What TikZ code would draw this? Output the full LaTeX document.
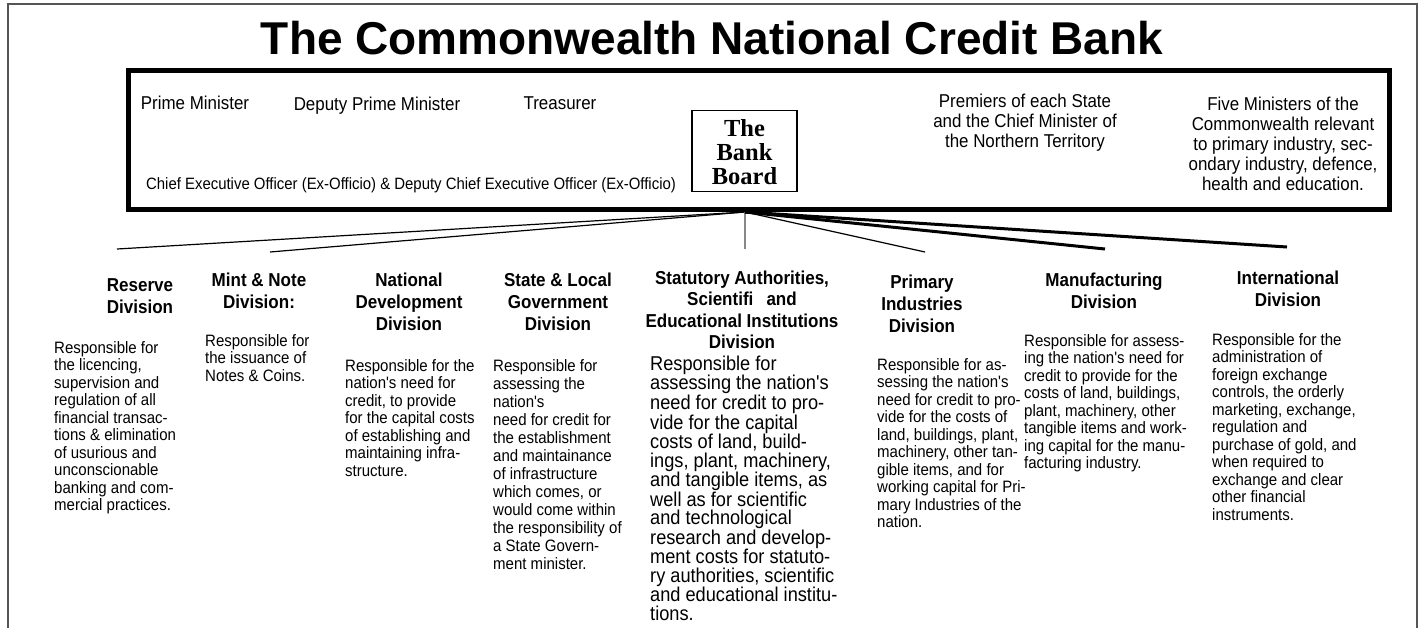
\documentclass[tikz,border=0pt]{standalone}
\usepackage{fontspec}
\usepackage{tikz}
\setmainfont{Liberation Sans}
\newfontfamily\narrowsans[FakeStretch=0.91]{Liberation Sans}
\newfontfamily\boardserif{Liberation Serif}
\definecolor{framegray}{HTML}{555555}
\definecolor{stemgray}{HTML}{888888}
\tikzset{
	member/.style={align=center, inner sep=0pt, font=\narrowsans\fontsize{18.6}{20}\selectfont},
	head/.style={align=center, inner sep=0pt, font=\narrowsans\bfseries\fontsize{18.7}{22}\selectfont},
	duty/.style={align=left, anchor=north west, inner sep=0pt, font=\narrowsans\fontsize{16.5}{17.5}\selectfont},
	feed/.style={line width=1.2pt},
	heavyfeed/.style={line width=3pt}
}
\begin{document}
\begin{tikzpicture}[x=1pt, y=-1pt]
			\useasboundingbox (0, 0) rectangle (1425, 627);
			\draw[framegray, line width=1.5pt] (8, 640) -- (8, 4) -- (1417, 4) -- (1417, 640);
			\node at (712, 38) (title) {\bfseries\fontsize{46}{48}\selectfont The Commonwealth National Credit Bank};
			\draw[line width=5pt] (128.5, 70) rectangle (1389.5, 209.5);
			\node[member] at (195, 103) (pm) {Prime Minister};
			\node[member] at (377, 106) (dpm) {Deputy Prime Minister};
			\node[member] at (560, 103) (tr) {Treasurer};
			\node[member, font=\narrowsans\fontsize{16.4}{18}\selectfont] at (411, 185) (ceo) {Chief Executive Officer (Ex-Officio) \& Deputy Chief Executive Officer (Ex-Officio)};
			\node[draw, line width=1.2pt, minimum width=105pt, minimum height=81pt] at (744.5, 151) (boardbox) {};
			\node[align=center, inner sep=0pt, font=\boardserif\bfseries\fontsize{24.5}{24}\selectfont] at (744.5, 152) (board) {The\\Bank\\Board};
			\node[member] at (1025, 123) (premiers) {Premiers of each State\\and the Chief Minister of\\the Northern Territory};
			\node[member] at (1283, 144) (five) {Five Ministers of the\\Commonwealth relevant\\to primary industry, sec-\\ondary industry, defence,\\health and education.};
			\coordinate (hub) at (745, 212);
			\coordinate (e1) at (117, 249);
			\coordinate (e2) at (270, 252);
			\coordinate (e5) at (745, 249);
			\coordinate (e6) at (925, 252);
			\coordinate (e7) at (1105, 249);
			\coordinate (e8) at (1287, 247);
			\draw[feed] (hub) -- (e1);
			\draw[feed] (hub) -- (e2);
			\draw[stemgray, line width=1.8pt] (hub) -- (e5);
			\draw[feed] (hub) -- (e6);
			\draw[heavyfeed] (hub) -- (e7);
			\draw[heavyfeed] (hub) -- (e8);
			\node[head] at (140, 296.5) (reserve) {Reserve\\Division};
			\node[head] at (259, 291) (mint) {Mint \& Note\\Division:};
			\node[head] at (409, 302) (natdev) {National\\Development\\Division};
			\node[head] at (558, 302) (state) {State \& Local\\Government\\Division};
			\node[head, font=\narrowsans\bfseries\fontsize{18.7}{21.5}\selectfont] at (742, 310) (statutory) {Statutory Authorities,\\Scientifi\hspace{0.7em}and\\Educational Institutions\\Division};
			\node[head] at (922, 304) (primary) {Primary\\Industries\\Division};
			\node[head] at (1104, 291) (manuf) {Manufacturing\\Division};
			\node[head] at (1288, 289) (intl) {International\\Division};
			\node[duty] at (54, 341) (reservetext) {Responsible for\\the licencing,\\supervision and\\regulation of all\\financial transac-\\tions \& elimination\\of usurious and\\unconscionable\\banking and com-\\mercial practices.};
			\node[duty] at (205, 334) (minttext) {Responsible for\\the issuance of\\Notes \& Coins.};
			\node[duty] at (345, 359) (natdevtext) {Responsible for the\\nation's need for\\credit, to provide\\for the capital costs\\of establishing and\\maintaining infra-\\structure.};
			\node[duty, font=\narrowsans\fontsize{16.5}{18}\selectfont] at (493, 359) (statetext) {Responsible for\\assessing the\\nation's\\need for credit for\\the establishment\\and maintainance\\of infrastructure\\which comes, or\\would come within\\the responsibility of\\a State Govern-\\ment minister.};
			\node[duty, font=\narrowsans\fontsize{20}{18.3}\selectfont] at (650, 355.5) (statutorytext) {Responsible for\\assessing the nation's\\need for credit to pro-\\vide for the capital\\costs of land, build-\\ings, plant, machinery,\\and tangible items, as\\well as for scientific\\and technological\\research and develop-\\ment costs for statuto-\\ry authorities, scientific\\and educational institu-\\tions.};
			\node[duty] at (877, 358) (primarytext) {Responsible for as-\\sessing the nation's\\need for credit to pro-\\vide for the costs of\\land, buildings, plant,\\machinery, other tan-\\gible items, and for\\working capital for Pri-\\mary Industries of the\\nation.};
			\node[duty] at (1024, 334) (manuftext) {Responsible for assess-\\ing the nation's need for\\credit to provide for the\\costs of land, buildings,\\plant, machinery, other\\tangible items and work-\\ing capital for the manu-\\facturing industry.};
			\node[duty] at (1212, 333) (intltext) {Responsible for the\\administration of\\foreign exchange\\controls, the orderly\\marketing, exchange,\\regulation and\\purchase of gold, and\\when required to\\exchange and clear\\other financial\\instruments.};
\end{tikzpicture}
\end{document}
